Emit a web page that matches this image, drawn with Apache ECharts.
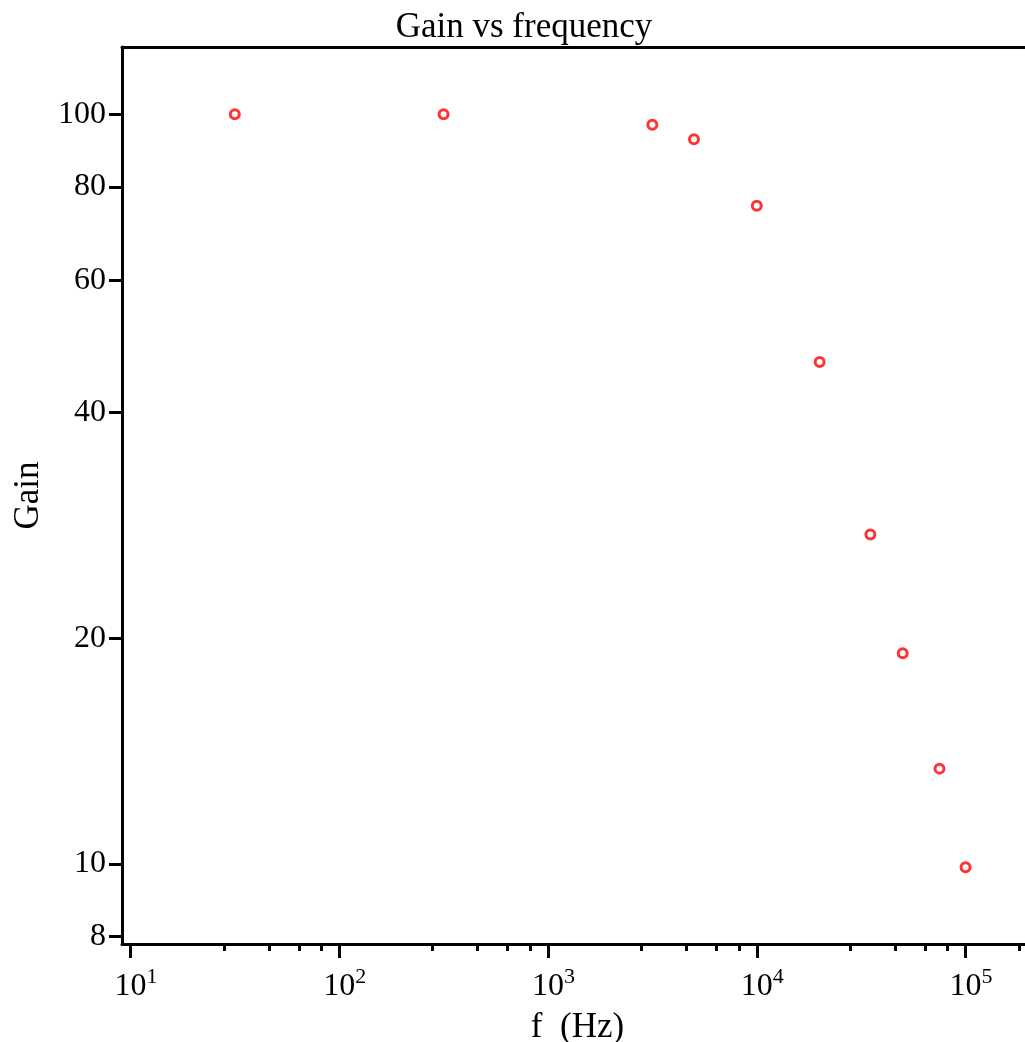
<!DOCTYPE html>
<html>
<head>
<meta charset="utf-8">
<title>Gain vs frequency</title>
<script src="https://cdn.jsdelivr.net/npm/echarts@6/dist/echarts.min.js"></script>
<style>
  html, body { margin: 0; padding: 0; background: #ffffff; }
  #chart { width: 1025px; height: 1042px; }
</style>
</head>
<body>
<div id="chart"></div>
<script>
// Measured amplifier response
const freqHz = [31.6, 316, 3160, 5000, 10000, 20000, 35000, 50000, 75000, 100000];
const gain   = [100, 100, 96.8, 92.6, 75.5, 46.7, 27.5, 19.1, 13.4, 9.9];

// Axis ticks
const xMajorTicks = [10, 100, 1000, 10000, 100000];
const xMinorTicks = [28, 46, 64, 82, 280, 460, 640, 820, 2800, 4600, 6400, 8200,
                     28000, 46000, 64000, 82000, 180000];
const yTicks = [8, 10, 20, 40, 60, 80, 100];

const X_MIN = 9.106, X_MAX = 192600;
const Y_MIN = 7.82, Y_MAX = 122.9;

const SERIF = "'Liberation Serif', 'Times New Roman', serif";
const INK = '#000000';

const chart = echarts.init(document.getElementById('chart'), null, { renderer: 'canvas' });

const points = freqHz.map((f, i) => [f, gain[i]]);

chart.setOption({
  animation: false,
  backgroundColor: '#ffffff',
  title: {
    text: 'Gain vs frequency',
    left: 519,
    top: 5,
    textAlign: 'center',
    textStyle: { fontFamily: SERIF, fontSize: 35, fontWeight: 'normal', color: INK }
  },
  grid: { left: 122, right: 0, top: 47, bottom: 98, outerBoundsMode: 'none' },
  xAxis: [
    {
      type: 'log', min: X_MIN, max: X_MAX, position: 'bottom',
      name: 'f  (Hz)', nameLocation: 'middle', nameGap: 66,
      nameTextStyle: { fontFamily: SERIF, fontSize: 35, color: INK, padding: [0, 0, 0, 8] },
      axisLine: { show: true, lineStyle: { color: INK, width: 3 } },
      axisTick: { show: true, inside: false, length: 14, lineStyle: { color: INK, width: 3 },
                  customValues: xMajorTicks },
      axisLabel: {
        show: true, margin: 22, customValues: xMajorTicks,
        formatter: function (v) {
          return '{p|}{b|10}{s|' + Math.round(Math.log10(v)) + '}';
        },
        rich: {
          p: { width: 11, fontSize: 32, fontFamily: SERIF },
          b: { fontSize: 32, fontFamily: SERIF, color: INK },
          s: { fontSize: 22, fontFamily: SERIF, color: INK, padding: [0, 0, 20, 0] }
        }
      },
      splitLine: { show: false }, minorTick: { show: false }
    },
    {
      type: 'log', min: X_MIN, max: X_MAX, position: 'bottom',
      axisLine: { show: false },
      axisTick: { show: true, inside: false, length: 7, lineStyle: { color: INK, width: 3 },
                  customValues: xMinorTicks },
      axisLabel: { show: false },
      splitLine: { show: false }
    },
    {
      type: 'log', min: X_MIN, max: X_MAX, position: 'top',
      axisLine: { show: true, lineStyle: { color: INK, width: 3 } },
      axisTick: { show: false }, axisLabel: { show: false }, splitLine: { show: false }
    }
  ],
  yAxis: {
    type: 'log', min: Y_MIN, max: Y_MAX,
    name: 'Gain', nameLocation: 'middle', nameGap: 76, nameRotate: 90,
    nameTextStyle: { fontFamily: SERIF, fontSize: 35, color: INK },
    axisLine: { show: true, lineStyle: { color: INK, width: 3 } },
    axisTick: { show: true, inside: false, length: 13, lineStyle: { color: INK, width: 3 },
                customValues: yTicks },
    axisLabel: { show: true, margin: 16, customValues: yTicks,
                 fontFamily: SERIF, fontSize: 32, color: INK, padding: [3, 0, 0, 0],
                 formatter: function (v) { return String(Math.round(v)); } },
    splitLine: { show: false }
  },
  series: [{
    type: 'scatter',
    xAxisIndex: 0,
    data: points,
    symbol: 'circle',
    symbolSize: 9,
    itemStyle: { color: '#ffffff', borderColor: '#ff0000', borderWidth: 3 }
  }]
});
</script>
</body>
</html>
